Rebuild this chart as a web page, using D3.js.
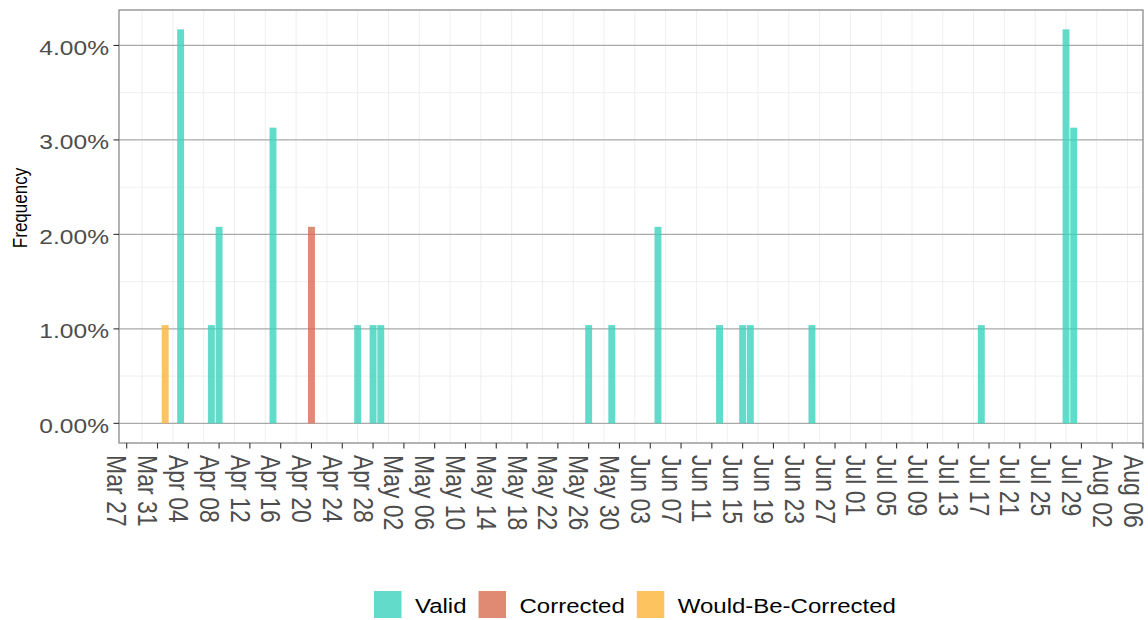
<!DOCTYPE html>
<html>
<head>
<meta charset="utf-8">
<script src="https://cdn.jsdelivr.net/npm/d3@7"></script>
<style>
  html, body { margin: 0; padding: 0; background: #ffffff; }
  svg { display: block; }
  text { font-family: "Liberation Sans", Arial, Helvetica, sans-serif; }
</style>
</head>
<body>
<svg id="chart" width="1148" height="620"></svg>
<script>
// Daily frequencies (percent of all records) by record status
const validDates = ["2020-04-03", "2020-04-07", "2020-04-08", "2020-04-15", "2020-04-26",
                    "2020-04-28", "2020-04-29", "2020-05-26", "2020-05-29", "2020-06-04",
                    "2020-06-12", "2020-06-15", "2020-06-16", "2020-06-24", "2020-07-16",
                    "2020-07-27", "2020-07-28"];
const validFreq = [4.17, 1.04, 2.08, 3.13, 1.04,
                   1.04, 1.04, 1.04, 1.04, 2.08,
                   1.04, 1.04, 1.04, 1.04, 1.04,
                   4.17, 3.13];

const correctedDates = ["2020-04-20"];
const correctedFreq = [2.08];

const wouldBeDates = ["2020-04-01"];
const wouldBeFreq = [1.04];

const statusNames = ["Valid", "Corrected", "Would-Be-Corrected"];
const statusColors = ["#3cd2be", "#d86d51", "#fbb436"];

const yTicks = [0, 1, 2, 3, 4];
const yMinorTicks = [0.5, 1.5, 2.5, 3.5];

// Layout
const panel = { left: 119, right: 1143, top: 10, bottom: 443 };
const sx = 1.17; // horizontal text widening

const parse = d3.utcParse("%Y-%m-%d");
const svg = d3.select("#chart");

const x = d3.scaleUtc()
  .domain([parse("2020-03-26"), parse("2020-08-06")])
  .range([panel.left, panel.right]);

const y = d3.scaleLinear()
  .domain([-0.208, 4.375])
  .range([panel.bottom, panel.top]);

const xTicks = d3.utcDay.range(parse("2020-03-27"), parse("2020-08-07"), 4);
const xGrid = xTicks.map(d => d3.utcDay.offset(d, 2))
  .concat([d3.utcDay.offset(xTicks[0], -2)])
  .filter(d => x(d) > panel.left && x(d) < panel.right);
const fmt = d3.utcFormat("%b %d");

// Grid
const grid = svg.append("g");
grid.selectAll("line.vminor").data(xGrid).join("line")
  .attr("x1", d => x(d)).attr("x2", d => x(d))
  .attr("y1", panel.top).attr("y2", panel.bottom)
  .attr("stroke", "#ebebeb").attr("stroke-width", 0.8);
grid.selectAll("line.hminor").data(yMinorTicks).join("line")
  .attr("x1", panel.left).attr("x2", panel.right)
  .attr("y1", d => y(d)).attr("y2", d => y(d))
  .attr("stroke", "#ebebeb").attr("stroke-width", 0.8);
grid.selectAll("line.hmajor").data(yTicks).join("line")
  .attr("x1", panel.left).attr("x2", panel.right)
  .attr("y1", d => y(d)).attr("y2", d => y(d))
  .attr("stroke", "#a9a9a9").attr("stroke-width", 1.2);

// Bars
const series = [
  { name: statusNames[0], color: statusColors[0], dates: validDates, freq: validFreq },
  { name: statusNames[1], color: statusColors[1], dates: correctedDates, freq: correctedFreq },
  { name: statusNames[2], color: statusColors[2], dates: wouldBeDates, freq: wouldBeFreq }
];
const dayW = x(parse("2020-04-02")) - x(parse("2020-04-01"));
const barW = dayW * 0.9;

series.forEach(s => {
  const rows = s.dates.map((d, i) => ({ date: parse(d), v: s.freq[i] }));
  svg.append("g").selectAll("rect").data(rows).join("rect")
    .attr("x", d => x(d.date) - barW / 2)
    .attr("width", barW)
    .attr("y", d => y(d.v))
    .attr("height", d => y(0) - y(d.v))
    .attr("fill", s.color)
    .attr("fill-opacity", 0.8);
});

// Panel border
svg.append("rect")
  .attr("x", panel.left).attr("y", panel.top)
  .attr("width", panel.right - panel.left).attr("height", panel.bottom - panel.top)
  .attr("fill", "none").attr("stroke", "#8a8a8a").attr("stroke-width", 1.3);

// Y axis
const yAxis = svg.append("g");
yAxis.selectAll("line").data(yTicks).join("line")
  .attr("x1", panel.left - 5.5).attr("x2", panel.left)
  .attr("y1", d => y(d)).attr("y2", d => y(d))
  .attr("stroke", "#333").attr("stroke-width", 1.1);
yAxis.selectAll("text").data(yTicks).join("text")
  .attr("transform", d => `translate(109,${y(d) + 9.5}) scale(${sx},1)`)
  .attr("text-anchor", "end")
  .attr("font-size", 21)
  .attr("fill", "#4d4d4d")
  .text(d => d3.format(".2f")(d) + "%");

// X axis
const xAxis = svg.append("g");
xAxis.selectAll("line").data(xTicks).join("line")
  .attr("x1", d => x(d)).attr("x2", d => x(d))
  .attr("y1", panel.bottom).attr("y2", panel.bottom + 5.5)
  .attr("stroke", "#333").attr("stroke-width", 1.1);
xAxis.selectAll("text").data(xTicks).join("text")
  .attr("transform", d => `translate(${x(d)},455) scale(${sx},1) rotate(90)`)
  .attr("text-anchor", "start")
  .attr("dy", "0.72em")
  .attr("font-size", 23)
  .attr("fill", "#4d4d4d")
  .text(d => fmt(d));

// Axis title
svg.append("text")
  .attr("transform", `translate(26.7,208) scale(${sx},1) rotate(-90)`)
  .attr("text-anchor", "middle")
  .attr("font-size", 17)
  .attr("fill", "#000")
  .text("Frequency");

// Legend
const legend = svg.append("g");
let lx = 374;
statusNames.forEach((name, i) => {
  legend.append("rect")
    .attr("x", lx).attr("y", 591)
    .attr("width", 27.5).attr("height", 27)
    .attr("fill", statusColors[i]).attr("fill-opacity", 0.8);
  const t = legend.append("text")
    .attr("transform", `translate(${lx + 41},613) scale(${sx},1)`)
    .attr("font-size", 20.5)
    .attr("fill", "#000")
    .text(name);
  const w = t.node().getComputedTextLength() * sx;
  lx = lx + 41 + w + 12;
});
</script>
</body>
</html>
